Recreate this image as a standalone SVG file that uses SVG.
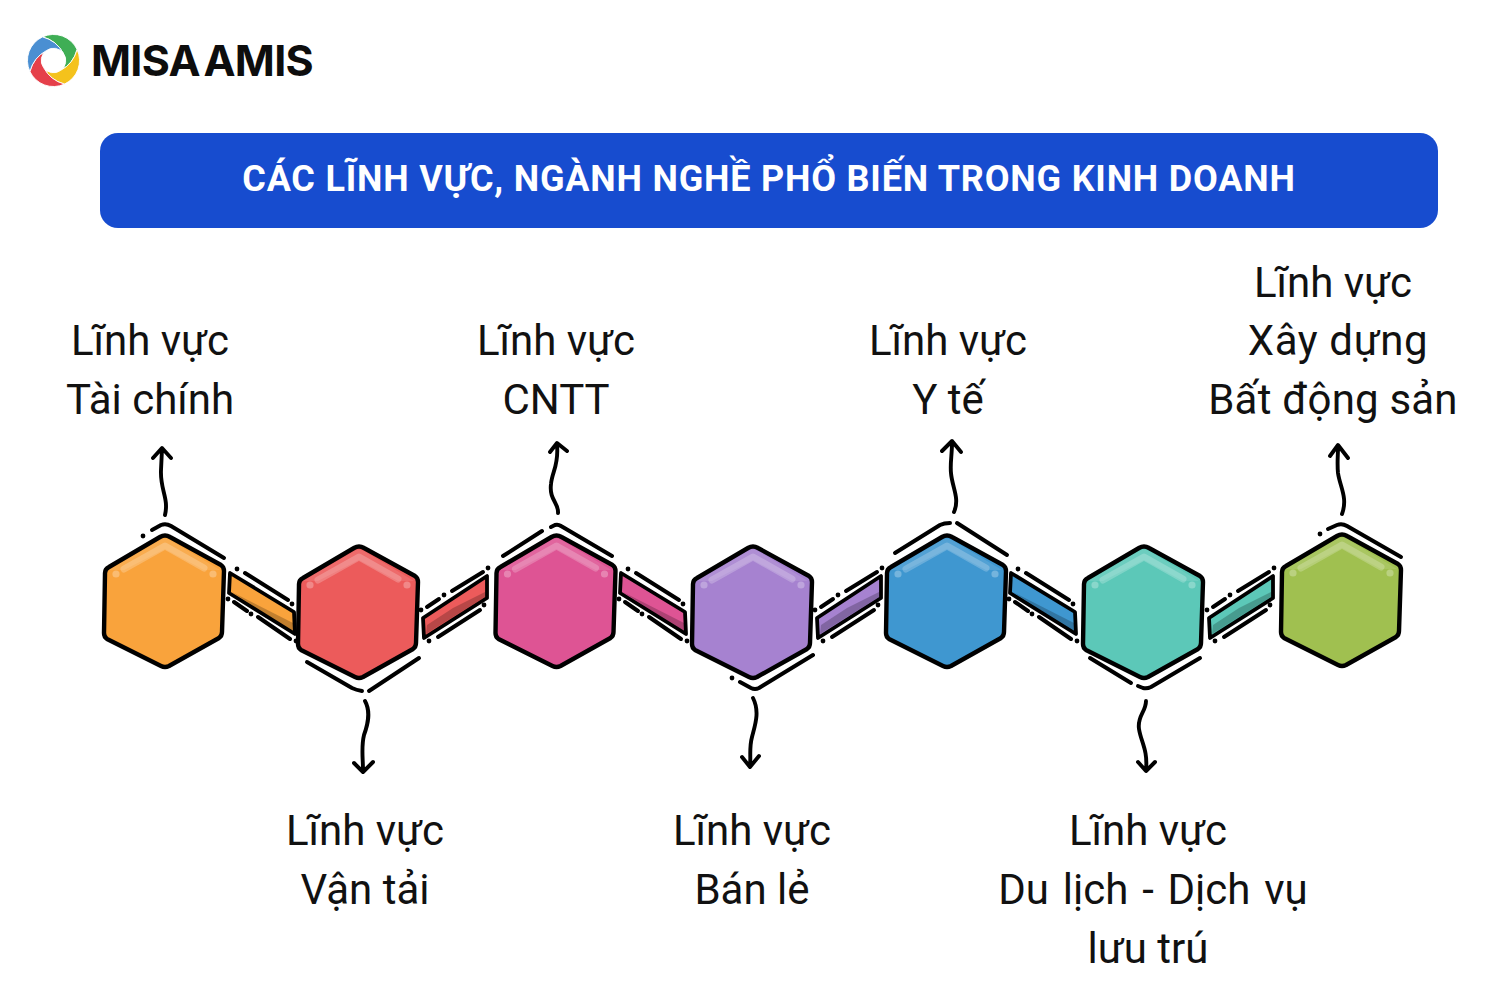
<svg xmlns="http://www.w3.org/2000/svg" width="1500" height="1000" viewBox="0 0 1500 1000">
<style>
.ink{fill:none;stroke:#000;stroke-width:4;stroke-linecap:round;stroke-linejoin:round}
.arrow{fill:none;stroke:#000;stroke-width:3.9;stroke-linecap:round;stroke-linejoin:round}
.hexo{stroke:#000;stroke-width:4.4;stroke-linejoin:round}
.bar{stroke:#000;stroke-width:3.8;stroke-linejoin:round}
.dot{fill:#000}
.lab{font-family:"Roboto","Noto Sans",sans-serif;font-size:42px;fill:#111;text-anchor:middle}
.o{fill:#f9a33c}.r{fill:#ec5b5b}.p{fill:#de5494}.u{fill:#a682d0}.b{fill:#3f97d0}.t{fill:#5cc8b8}.g{fill:#a0c050}
</style>
<defs>
<g id="hex">
<path class="hexo" d="M-4,-64 Q1,-67 6,-64 L57,-36 Q60,-34 60,-30 L58,31 Q58,35 55,37 L5,65 Q1,67 -3,65 L-57,38 Q-60,36 -60,32 L-59,-28 Q-59,-32 -55,-34 Z"/>
<path d="M-55,-31 L-4,-61 Q1,-64 6,-61 L56,-31 L40,-31 L1,-52 L-40,-31 Z" fill="#fff" opacity=".1"/>
<path d="M-40,-32 L1,-55 L40,-33" fill="none" stroke="#fff" stroke-opacity=".22" stroke-width="7" stroke-linecap="round" stroke-linejoin="round"/>
<circle cx="-48" cy="-27" r="3.6" fill="#fff" opacity=".28"/>
<circle cx="49" cy="-27" r="3.6" fill="#fff" opacity=".28"/>
</g>
<g id="barDown">
<polygon class="bar" points="230,573 294,612 295,634 229,593"/>
<polygon points="232,592 293,623 293,632" fill="#000" opacity=".22"/>
<path class="ink" d="M245,573 L288,600 M234,602 L247,611 M258,617 L290,639"/>
<circle class="dot" cx="237" cy="569" r="2.4"/><circle class="dot" cx="292" cy="604" r="2.4"/><circle class="dot" cx="228" cy="599" r="2.4"/><circle class="dot" cx="251" cy="614" r="2.4"/><circle class="dot" cx="296" cy="641" r="2.4"/>
</g>
<g id="barUp">
<polygon class="bar" points="487,576 487,598 424,638 423,618"/>
<path d="M426,634 L485,597 L485,592 L453,608 L427,625 Z" fill="#000" opacity=".22"/>
<path class="ink" d="M427,607 L439,599 M452,591 L483,572 M480,610 L438,637"/>
<circle class="dot" cx="421" cy="610" r="2.4"/><circle class="dot" cx="444" cy="595" r="2.4"/><circle class="dot" cx="488" cy="568" r="2.4"/><circle class="dot" cx="484" cy="605" r="2.4"/><circle class="dot" cx="429" cy="641" r="2.4"/>
</g>
<path id="blade" stroke="#fff" stroke-width=".9" d="M-11,-23.6 A26,26 0 0 1 23.6,-11 Q20,3 7,10 A12,12 0 0 0 10,-7 Q3,-20 -11,-23.6 Z"/>
</defs>
<rect width="1500" height="1000" fill="#fff"/>

<g id="logo">
<g transform="translate(53.5,60.5)">
<use href="#blade" fill="#3fae55"/>
<use href="#blade" fill="#f4c21c" transform="rotate(90)"/>
<use href="#blade" fill="#e5404a" transform="rotate(180)"/>
<use href="#blade" fill="#4a8fd2" transform="rotate(270)"/>
</g>
<text x="91" y="76" font-family="Inter,'Noto Sans',sans-serif" font-weight="700" font-size="43" word-spacing="-6" letter-spacing="-.7" fill="#0d0d0d">MISA AMIS</text>
</g>

<g id="title">
<rect x="100" y="133" width="1338" height="95" rx="18" fill="#174ccf"/>
<text x="769" y="191" font-family="Roboto,'Noto Sans',sans-serif" font-weight="700" font-size="36" letter-spacing=".8" fill="#fff" text-anchor="middle">CÁC LĨNH VỰC, NGÀNH NGHỀ PHỔ BIẾN TRONG KINH DOANH</text>
</g>

<g id="connectors">
<use href="#barDown" class="o"/>
<use href="#barUp" class="r"/>
<use href="#barDown" class="p" x="391"/>
<use href="#barUp" class="u" x="394"/>
<use href="#barDown" class="b" x="781"/>
<use href="#barUp" class="t" x="786"/>
<path class="arrow" d="M165,515 C169,498 160,490 161,470 L162,449 M153,458 L162,448 L171,458"/>
<path class="arrow" d="M365,701 C371,712 368,724 364,735 C361,747 363,758 363,770 M354,763 L363,772 L373,762"/>
<path class="arrow" d="M558,513 C559,503 549,500 551,484 C552,472 559,465 557,445 M550,452 L557,443 L567,451"/>
<path class="arrow" d="M753,698 C760,712 755,725 752,737 C749,748 751,756 750,766 M742,757 L750,767 L759,756"/>
<path class="arrow" d="M954,512 C960,498 952,487 951,473 C950,463 952,455 952,443 M942,451 L952,441 L961,452"/>
<path class="arrow" d="M1146,701 C1146,712 1137,716 1139,729 C1141,742 1148,750 1146,770 M1138,762 L1146,771 L1155,762"/>
<path class="arrow" d="M1342,514 C1348,498 1340,487 1338,473 C1337,463 1338,456 1338,447 M1330,456 L1338,445 L1348,458"/>
</g>

<g id="hex-orange">
<use href="#hex" class="o" x="164" y="601"/>
<path class="ink" d="M152,530 L161,525 Q166,523 171,526 L224,558"/>
<circle class="dot" cx="143" cy="536" r="2.4"/>
</g>
<g id="hex-red">
<use href="#hex" class="r" x="358" y="612"/>
<path class="ink" d="M307,662 L352,688 Q356,690 362,691 M369,691 L419,658"/>
</g>
<g id="hex-pink">
<use href="#hex" class="p" x="555.5" y="601"/>
<path class="ink" d="M503,556 L542,531 M551,527 L555,525 Q558,524 561,526 L612,556"/>
</g>
<g id="hex-purple">
<use href="#hex" class="u" x="752" y="612"/>
<path class="ink" d="M740,682 L751,688 Q755,690 759,688 L813,655"/>
<circle class="dot" cx="732" cy="678" r="2.4"/>
</g>
<g id="hex-blue">
<use href="#hex" class="b" x="946" y="601"/>
<path class="ink" d="M895,553 L940,525 Q944,523 950,523 M957,523 L1007,555"/>
</g>
<g id="hex-teal">
<use href="#hex" class="t" x="1143" y="612"/>
<path class="ink" d="M1090,658 L1131,683 M1138,686 L1143,688 Q1147,689 1151,687 L1200,658"/>
</g>
<g id="hex-green">
<use href="#hex" class="g" x="1341" y="600"/>
<path class="ink" d="M1328,529 L1337,525 Q1342,523 1347,526 L1401,557"/>
<circle class="dot" cx="1320" cy="534" r="2.4"/>
</g>

<g id="labels">
<text class="lab" x="150" y="355">Lĩnh vực</text><text class="lab" x="150" y="414">Tài chính</text>
<text class="lab" x="365" y="845">Lĩnh vực</text><text class="lab" x="365" y="904">Vận tải</text>
<text class="lab" x="556" y="355">Lĩnh vực</text><text class="lab" x="556" y="414">CNTT</text>
<text class="lab" x="752" y="845">Lĩnh vực</text><text class="lab" x="752" y="904">Bán lẻ</text>
<text class="lab" x="948" y="355">Lĩnh vực</text><text class="lab" x="948" y="414">Y tế</text>
<text class="lab" x="1148" y="845">Lĩnh vực</text><text class="lab" x="1153" y="904" word-spacing="3.4">Du lịch - Dịch vụ</text><text class="lab" x="1148" y="963">lưu trú</text>
<text class="lab" x="1333" y="297">Lĩnh vực</text><text class="lab" x="1338" y="355" letter-spacing=".6">Xây dựng</text><text class="lab" x="1333" y="414" letter-spacing=".2">Bất động sản</text>
</g>
</svg>
